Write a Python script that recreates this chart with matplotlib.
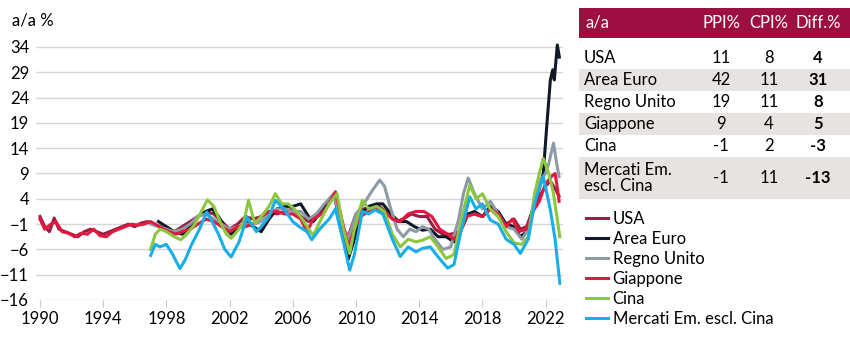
import matplotlib.pyplot as plt
import matplotlib.patches as mpatches

plt.rcParams['font.family'] = ['Lato', 'DejaVu Sans']

# serie (anno, differenza PPI-CPI a/a %)
usa_x = [1990.0, 1990.3, 1990.6, 1990.9, 1991.2, 1991.6, 1992.0, 1992.4, 1992.8, 1993.2, 1993.6, 1994.0,
         1994.4, 1994.8, 1995.2, 1995.6, 1996.0, 1996.4, 1996.8, 1997.2, 1997.6, 1998.0, 1998.5, 1999.0,
         1999.5, 2000.0, 2000.5, 2001.0, 2001.5, 2002.0, 2002.5, 2003.0, 2003.5, 2004.0, 2004.5, 2005.0,
         2005.5, 2006.0, 2006.5, 2007.0, 2007.5, 2008.0, 2008.6, 2009.0, 2009.5, 2010.0, 2010.5, 2011.0,
         2011.5, 2012.0, 2012.5, 2013.0, 2013.5, 2014.0, 2014.5, 2015.0, 2015.5, 2016.0, 2016.5, 2017.0,
         2017.5, 2018.0, 2018.5, 2019.0, 2019.5, 2020.0, 2020.4, 2020.8, 2021.2, 2021.6, 2022.0, 2022.3,
         2022.6, 2022.85]
usa_y = [0.5, -1.5, -2.5, 0.2, -2.0, -2.5, -3.0, -3.5, -2.5, -2.0, -2.5, -3.0,
         -2.5, -2.0, -1.5, -1.0, -1.5, -0.8, -0.5, -1.0, -1.5, -2.0, -2.5, -1.5,
         -0.5, 0.5, 1.5, 1.0, -0.5, -2.0, -1.0, 0.5, 0.0, 0.5, 1.5, 1.0,
         1.5, 2.0, 0.5, -0.5, 1.0, 2.5, 5.0, -1.0, -3.5, 1.0, 2.0, 2.5,
         2.5, 1.0, -0.5, 0.0, 1.0, 0.5, 0.5, -2.0, -3.0, -3.0, -2.5, 1.0,
         1.0, 0.5, 2.0, 0.5, -1.0, 0.0, -2.0, -1.5, 2.0, 4.5, 6.5, 7.5,
         6.0, 4.5]

euro_x = [1997.5, 1998.0, 1998.5, 1999.0, 1999.5, 2000.0, 2000.5, 2000.9, 2001.3, 2001.7, 2002.1, 2002.5,
          2003.0, 2003.5, 2004.0, 2004.5, 2005.0, 2005.5, 2006.0, 2006.5, 2007.0, 2007.3, 2007.8, 2008.3,
          2008.7, 2009.1, 2009.5, 2009.9, 2010.3, 2010.8, 2011.3, 2011.7, 2012.2, 2012.7, 2013.2, 2013.7,
          2014.2, 2014.7, 2015.2, 2015.7, 2016.2, 2016.6, 2017.1, 2017.5, 2018.0, 2018.5, 2019.0, 2019.5,
          2020.0, 2020.4, 2020.8, 2021.2, 2021.6, 2021.85, 2022.07, 2022.3, 2022.45, 2022.55, 2022.74, 2022.87]
euro_y = [-0.5, -1.5, -2.5, -3.0, -1.5, 0.5, 1.5, 2.0, 0.5, -1.5, -3.0, -2.0,
          -0.5, -1.5, -2.5, 0.0, 2.0, 2.5, 2.5, 3.0, 0.5, -0.5, 1.5, 3.5,
          4.5, -1.5, -8.0, -4.0, 1.0, 2.5, 3.0, 3.0, 1.0, -0.5, -0.5, -1.5,
          -2.2, -2.0, -3.5, -3.5, -4.5, -2.5, 1.0, 1.5, 0.5, 2.5, 1.5, -1.0,
          -1.5, -3.5, -2.5, 2.0, 6.0, 9.0, 18.3, 27.5, 29.5, 27.5, 34.4, 32.0]

uk_x = [1997.0, 1997.5, 1998.0, 1998.5, 1999.0, 1999.5, 2000.0, 2000.5, 2001.0, 2001.5, 2002.0, 2002.5,
        2003.0, 2003.5, 2004.0, 2004.5, 2005.0, 2005.5, 2006.0, 2006.5, 2007.0, 2007.5, 2008.0, 2008.6,
        2009.0, 2009.5, 2010.0, 2010.5, 2011.0, 2011.5, 2011.8, 2012.2, 2012.6, 2013.0, 2013.4, 2013.8,
        2014.2, 2014.6, 2015.0, 2015.5, 2016.0, 2016.5, 2016.8, 2017.1, 2017.5, 2018.0, 2018.5, 2019.0,
        2019.5, 2020.0, 2020.5, 2020.9, 2021.3, 2021.6, 2022.0, 2022.2, 2022.5, 2022.7, 2022.85]
uk_y = [-1.0, -1.5, -2.0, -2.5, -2.0, -1.0, 0.5, 1.0, 0.0, -1.0, -2.0, -1.5,
        -1.0, -1.0, -0.5, 1.0, 2.0, 2.0, 1.5, 1.5, 0.0, 1.0, 3.0, 5.0,
        0.0, -4.0, 1.0, 3.0, 5.5, 7.7, 6.5, 2.0, -2.0, -3.5, -2.0, -2.5,
        -1.5, -2.0, -4.0, -6.0, -5.5, 0.0, 5.0, 8.1, 5.0, 2.0, 3.5, 1.0,
        -1.5, -2.0, -4.0, -2.0, 3.0, 7.5, 9.0, 11.0, 15.0, 11.0, 8.4]

jap_x = [1990.0, 1990.3, 1990.7, 1991.0, 1991.4, 1991.8, 1992.2, 1992.6, 1993.0, 1993.4, 1993.8, 1994.2,
         1994.6, 1995.0, 1995.4, 1995.8, 1996.2, 1996.6, 1997.0, 1997.4, 1997.8, 1998.2, 1998.6, 1999.0,
         1999.5, 2000.0, 2000.5, 2001.0, 2001.5, 2002.0, 2002.5, 2003.0, 2003.5, 2004.0, 2004.5, 2005.0,
         2005.5, 2006.0, 2006.5, 2006.9, 2007.3, 2007.8, 2008.2, 2008.7, 2009.1, 2009.5, 2009.9, 2010.3,
         2010.8, 2011.3, 2011.8, 2012.3, 2012.8, 2013.3, 2013.8, 2014.3, 2014.8, 2015.3, 2015.8, 2016.2,
         2016.6, 2017.0, 2017.5, 2018.0, 2018.5, 2019.0, 2019.5, 2019.9, 2020.3, 2020.8, 2021.2, 2021.6,
         2022.0, 2022.4, 2022.6, 2022.75, 2022.85]
jap_y = [0.0, -2.0, -1.0, -0.5, -2.5, -2.8, -3.5, -2.8, -3.0, -2.0, -3.3, -3.5,
         -2.5, -2.0, -1.5, -1.0, -1.2, -1.0, -0.5, -1.2, -2.0, -2.5, -3.0, -2.5,
         -2.0, -1.0, 0.0, -0.5, -1.5, -2.5, -1.5, -1.5, -1.0, 0.5, 1.5, 1.5,
         1.0, 1.0, 0.0, -2.5, 0.0, 1.0, 2.5, 5.4, 0.0, -5.5, -2.0, 0.5,
         1.5, 2.0, 1.5, 0.0, -0.5, 1.0, 1.5, 1.5, 0.5, -2.0, -3.0, -4.0,
         -2.5, 0.5, 1.0, 0.5, 2.0, 1.0, -1.5, 0.0, -2.5, -2.0, 1.5, 3.5,
         7.0, 8.5, 9.0, 6.0, 3.5]

cina_x = [1997.0, 1997.3, 1997.6, 1998.0, 1998.5, 1998.9, 1999.3, 1999.8, 2000.3, 2000.6, 2001.0, 2001.4,
          2001.8, 2002.1, 2002.6, 2002.9, 2003.2, 2003.6, 2004.0, 2004.5, 2004.9, 2005.3, 2005.7, 2006.1,
          2006.6, 2007.0, 2007.3, 2007.8, 2008.3, 2008.8, 2009.2, 2009.6, 2009.9, 2010.4, 2010.8, 2011.3,
          2011.8, 2012.3, 2012.8, 2013.3, 2013.8, 2014.2, 2014.7, 2015.2, 2015.7, 2016.2, 2016.6, 2017.2,
          2017.6, 2018.0, 2018.5, 2019.0, 2019.5, 2020.0, 2020.5, 2020.9, 2021.3, 2021.6, 2021.85, 2022.2,
          2022.5, 2022.9]
cina_y = [-6.0, -3.0, -2.0, -2.5, -3.5, -4.1, -3.0, -1.0, 2.0, 3.8, 2.5, -0.5,
          -3.0, -3.8, -2.0, -0.5, 3.7, -0.9, 0.5, 2.5, 5.0, 3.0, 3.0, 2.0,
          0.0, -2.0, -3.2, 0.0, 3.0, 5.0, -2.0, -6.8, -2.0, 3.7, 2.0, 2.5,
          1.5, -3.0, -5.5, -4.0, -4.5, -4.2, -3.5, -5.5, -7.8, -7.0, -1.0, 6.7,
          4.0, 5.0, 2.0, 0.5, -2.5, -4.7, -5.0, -3.5, 5.0, 9.0, 12.0, 9.0,
          5.0, -3.5]

em_x = [1997.0, 1997.3, 1997.6, 1998.0, 1998.4, 1998.86, 1999.2, 1999.6, 2000.1, 2000.55, 2000.9, 2001.3,
        2001.7, 2002.1, 2002.6, 2003.1, 2003.7, 2004.0, 2004.5, 2004.9, 2005.4, 2006.0, 2006.4, 2006.9,
        2007.2, 2007.7, 2008.3, 2008.7, 2009.2, 2009.6, 2009.9, 2010.4, 2010.8, 2011.2, 2011.7, 2012.3,
        2012.8, 2013.3, 2013.8, 2014.2, 2014.7, 2015.2, 2015.8, 2016.2, 2016.6, 2017.2, 2017.6, 2018.0,
        2018.5, 2019.0, 2019.5, 2020.0, 2020.4, 2020.9, 2021.3, 2021.6, 2021.85, 2022.3, 2022.6, 2022.9]
em_y = [-7.2, -5.0, -5.5, -5.0, -7.0, -9.8, -8.0, -5.0, -2.0, 1.4, -0.5, -3.0,
        -6.0, -7.5, -4.5, 0.4, -2.5, -1.5, 0.5, 3.7, 2.1, -0.5, -1.5, -2.5,
        -4.1, -2.0, 0.0, 2.0, -4.5, -10.1, -7.0, 1.5, 1.0, 1.8, 1.0, -4.0,
        -7.4, -5.5, -6.5, -5.8, -5.5, -7.5, -9.7, -9.0, -3.0, 4.4, 2.0, 3.0,
        -0.2, -1.0, -4.0, -5.0, -6.8, -4.0, 3.0, 6.0, 8.4, 1.8, -4.0, -12.7]

serie = [
    ('USA', usa_x, usa_y, '#9b1c44'),
    ('Area Euro', euro_x, euro_y, '#0e1a27'),
    ('Regno Unito', uk_x, uk_y, '#8c9aa6'),
    ('Giappone', jap_x, jap_y, '#e2193e'),
    ('Cina', cina_x, cina_y, '#8dc63f'),
    ('Mercati Em. escl. Cina', em_x, em_y, '#19aee6'),
]

# tabella
paesi = ['USA', 'Area Euro', 'Regno Unito', 'Giappone', 'Cina', 'Mercati Em.\nescl. Cina']
ppi = ['11', '42', '19', '9', '-1', '-1']
cpi = ['8', '11', '11', '4', '2', '11']
diff = ['4', '31', '8', '5', '-3', '-13']

yticks = [34, 29, 24, 19, 14, 9, 4, -1, -6, -11, -16]
xticks = [1990, 1994, 1998, 2002, 2006, 2010, 2014, 2018, 2022]

W, H = 850, 340
fig = plt.figure(figsize=(W / 100, H / 100), dpi=100)
ax = fig.add_axes([36 / W, 40 / H, 527 / W, 260.6 / H])

for nome, xs, ys, col in serie:
    ax.plot(xs, ys, color=col, lw=2.2, label=nome, solid_joinstyle='round')

ax.set_xlim(1989.75, 2023.1)
ax.set_ylim(-16, 35.5)
ax.set_yticks(yticks)
ax.set_xticks(xticks)
ax.grid(axis='y', color='#d6d6d6', lw=1)
ax.set_axisbelow(True)
for s in ax.spines.values():
    s.set_visible(False)
ax.tick_params(axis='y', length=0, labelsize=12, pad=5)
ax.tick_params(axis='x', length=5, color='#c8c8c8', labelsize=12, pad=3)

fig.text(12 / W, 1 - 20 / H, 'a/a %', fontsize=12, va='center', ha='left')


def fy(y):
    return 1 - y / H


# intestazione tabella
fig.add_artist(mpatches.Rectangle((579 / W, fy(37.5)), (W - 579) / W, 29 / H,
                                  transform=fig.transFigure, color='#9c0f40', lw=0))
fig.text(585 / W, fy(23), 'a/a', color='white', fontsize=12, va='center')
for xc, t in [(721, 'PPI%'), (769, 'CPI%'), (818, 'Diff.%')]:
    fig.text(xc / W, fy(23), t, color='white', fontsize=12, va='center', ha='center')

righe_y = [58, 80, 102, 124, 146, 178]
bande = [(69, 91), (113, 135), (157, 199)]
for y0, y1 in bande:
    fig.add_artist(mpatches.Rectangle((579 / W, fy(y1)), (W - 579) / W, (y1 - y0) / H,
                                      transform=fig.transFigure, color='#e6e3e0', lw=0))

for i in range(len(paesi)):
    yc = fy(righe_y[i])
    fig.text(584 / W, yc, paesi[i], fontsize=12, va='center', ha='left', linespacing=0.95)
    fig.text(721 / W, yc, ppi[i], fontsize=12, va='center', ha='center')
    fig.text(769 / W, yc, cpi[i], fontsize=12, va='center', ha='center')
    fig.text(818 / W, yc, diff[i], fontsize=12, va='center', ha='center', fontweight='bold')

fig.legend(loc='upper left', bbox_to_anchor=(586 / W, fy(211)), frameon=False, fontsize=12,
           handlelength=1.3, handletextpad=0.3, labelspacing=0.235, borderpad=0, borderaxespad=0)

fig.savefig('out.png', dpi=100)
